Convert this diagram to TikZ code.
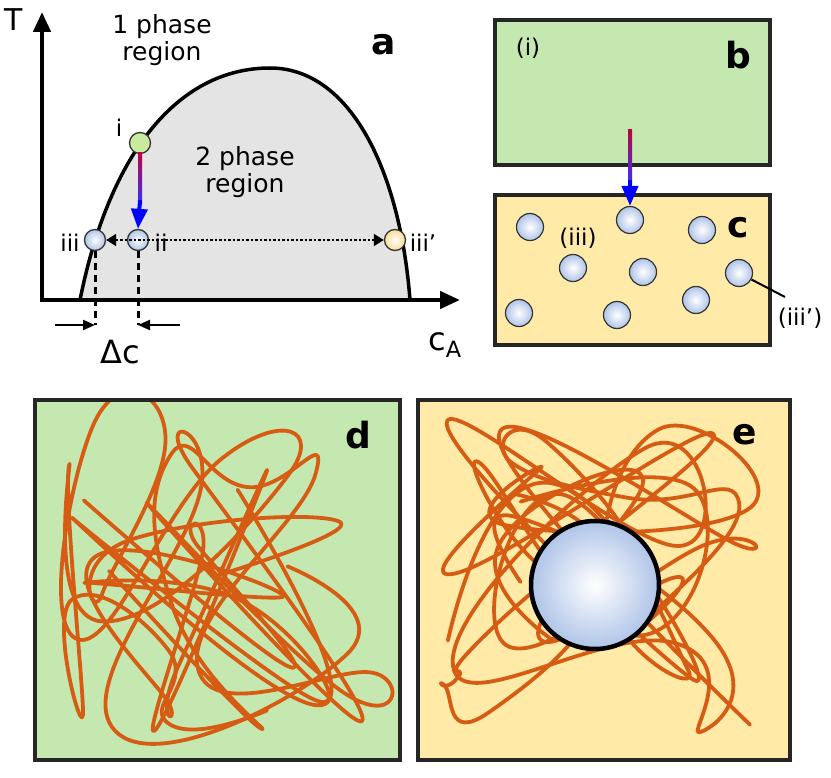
\documentclass[tikz,border=0pt]{standalone}
\usepackage{fontspec}
\setmainfont{DejaVu Sans}
\usetikzlibrary{arrows.meta}
\definecolor{boxgreen}{RGB}{197, 232, 176}
\definecolor{boxyellow}{RGB}{255, 234, 168}
\definecolor{domegray}{RGB}{228, 228, 228}
\definecolor{dotgreen}{RGB}{200, 235, 160}
\definecolor{dotblue}{RGB}{175, 196, 232}
\definecolor{dotyellow}{RGB}{250, 220, 150}
\definecolor{strand}{RGB}{214, 92, 20}
\tikzset{
  panel/.style={draw=black!85, line width=3.5pt},
  state/.style={circle, draw=black!80, line width=1.3pt, minimum size=21pt, inner sep=0pt},
  droplet/.style={circle, draw=black!80, line width=1.2pt, minimum size=27pt, inner sep=0pt,
    inner color=white, outer color=dotblue},
  tag/.style={font=\fontsize{36}{38}\selectfont\bfseries},
  lbl/.style={font=\fontsize{25}{27}\selectfont, align=center},
  small/.style={font=\fontsize{23}{25}\selectfont},
  tangle/.style={strand, line width=3.8pt, line cap=round, line join=round}
}
\begin{document}
\begin{tikzpicture}[x=1pt, y=-1pt]
    \useasboundingbox (0,0) rectangle (831,778);
    % panel a: phase diagram
    \fill[domegray, draw=black, line width=3.5pt] (80,300) .. controls (110,150) and (180,68) .. (270,68)
        .. controls (350,68) and (400,170) .. (410,300);
    \draw[line width=4.5pt, -{Triangle[length=20pt,width=17pt]}] (42,302) -- (42,12);
    \draw[line width=4.5pt, -{Triangle[length=20pt,width=17pt]}] (40,300) -- (460,300);
    \node[lbl, font=\fontsize{30}{32}\selectfont] (tlab) at (14,20) {T};
    \node[lbl, font=\fontsize{32}{34}\selectfont] (clab) at (445,345) {c\textsubscript{A}};
    \node[lbl, inner sep=0pt] (one) at (162,40) {1 phase\\region};
    \node[lbl, inner sep=0pt] (two) at (245,172) {2 phase\\region};
    \node[tag] (taga) at (384,45) {a};

    \node[state, fill=dotgreen] (pi) at (140,143) {};
    \node[state, inner color=white, outer color=dotblue] (pii) at (138,240) {};
    \node[state, inner color=white, outer color=dotblue] (piii) at (95,240) {};
    \node[state, inner color=white, outer color=dotyellow] (piiip) at (395,240) {};
    \node[small] at (119,128) {i};
    \node[small] at (161,243) {ii};
    \node[small] at (70,243) {iii};
    \node[small] at (423,243) {iii'};

    \shade[top color=purple, bottom color=blue!80] (138,153) rectangle (142,205);
    \draw[blue, line width=4pt, -{Triangle[length=20pt,width=16pt]}] (140,200) -- (pii.north);
    \draw[line width=2.5pt, dotted, {Triangle[length=10pt]}-{Triangle[length=10pt]}] (piii) -- (piiip);
    \draw[line width=3pt, dash pattern=on 7pt off 5pt] (piii.south) -- (95,325);
    \draw[line width=3pt, dash pattern=on 7pt off 5pt] (pii.south) -- (138,325);
    \coordinate (dl) at (55,325);
    \coordinate (dr) at (180,325);
    \draw[line width=2pt, -{Triangle[length=12pt,width=10pt]}] (dl) -- (95,325);
    \draw[line width=2pt, -{Triangle[length=12pt,width=10pt]}] (dr) -- (138,325);
    \node[lbl, font=\fontsize{32}{34}\selectfont] (dc) at (120,352) {Δc};

    % panel b and c
    \draw[panel, fill=boxgreen] (495,20) rectangle (770,165);
    \node[small] at (528,48) {(i)};
    \node[tag] at (738,55) {b};
    \draw[panel, fill=boxyellow] (495,195) rectangle (770,345);
    \node[tag] at (738,228) {c};
    \foreach \x/\y [count=\n] in {530/227, 630/220, 702/230, 573/268, 643/272, 739/273, 519/313, 617/315, 696/300}
        \node[droplet] (d\n) at (\x,\y) {};
    \node[small] at (578,238) {(iii)};
    \node[small] (ext) at (800,318) {(iii')};
    \draw[line width=2pt] (d6) -- (785,297);
    \shade[top color=purple, bottom color=blue!80] (628,130) rectangle (632,185);
    \draw[blue, line width=4pt, -{Triangle[length=20pt,width=16pt]}] (630,180) -- (d2.north);

    % panel d and e: polymer network
    \draw[panel, fill=boxgreen] (35,400) rectangle (400,760);
    \draw[panel, fill=boxyellow] (418,400) rectangle (790,760);
    \foreach \ox/\sd in {35/7, 418/11} {
      \begin{scope}
        \clip (\ox+2,402) rectangle (\ox+368,758);
        \pgfmathsetseed{\sd}
        \foreach \s in {1,...,3}
          \draw[tangle] plot[smooth, tension=1, variable=\k, samples at={1,...,16}]
            ({\ox+25+315*rnd},{420+320*rnd});
      \end{scope}
    }
    \draw[panel] (35,400) rectangle (400,760);
    \draw[panel] (418,400) rectangle (790,760);
    \shade[inner color=white, outer color=dotblue] (595,585) circle (64);
    \draw[black, line width=4.5pt] (595,585) circle (64);
    \node[tag] at (358,435) {d};
    \node[tag] at (745,435) {e};
\end{tikzpicture}
\end{document}
